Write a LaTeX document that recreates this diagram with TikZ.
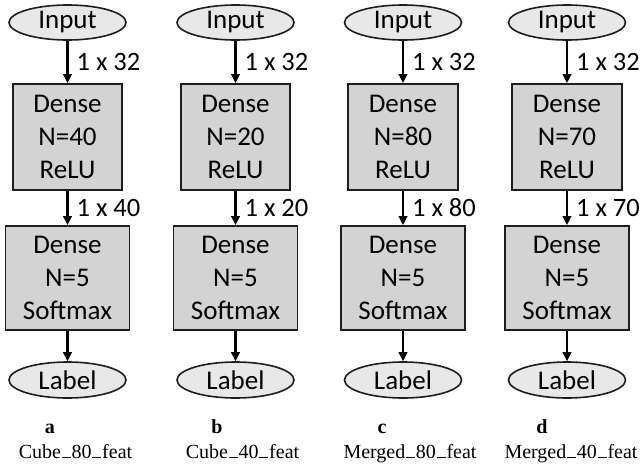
\documentclass[tikz,border=0pt]{standalone}
\usepackage{fontspec}
\setmainfont{Liberation Serif}
\newfontfamily\calib{Carlito}
\usetikzlibrary{shapes.geometric,arrows.meta}
\definecolor{boxgray}{RGB}{211,211,211}
\definecolor{ellgray}{RGB}{232,232,232}
\definecolor{edgegray}{RGB}{30,30,30}
\newcommand\usc{\kern0.04em\rule[-0.2pt]{0.45em}{0.9pt}\kern0.04em}
\begin{document}
\begin{tikzpicture}[x=1pt,y=-1pt,
  layerbox/.style={draw=edgegray,line width=1.8pt,fill=boxgray,inner sep=0pt,
    align=center,font=\calib\fontsize{27}{33}\selectfont},
  iobox/.style={ellipse,draw=edgegray,line width=1.6pt,fill=ellgray,inner sep=0pt,
    minimum width=117pt,font=\calib\fontsize{27}{30}\selectfont},
  flow/.style={draw=black,line width=2.2pt,-{Triangle[length=9pt,width=8.5pt]}},
  dimlabel/.style={anchor=west,xshift=8pt,inner sep=0pt,font=\calib\fontsize{26.5}{30}\selectfont},
  subletter/.style={font=\bfseries\fontsize{20}{24}\selectfont,anchor=base,inner sep=0pt},
  subname/.style={font=\fontsize{20}{24}\selectfont,anchor=base,inner sep=0pt}]
\useasboundingbox (0,0) rectangle (643,464);
\foreach \id/\cx/\wa/\n/\sl/\lx/\nm/\nx in {
  a/67.5/109/40/a/50/Cube\usc 80\usc feat/75.5,
  b/235.5/109/20/b/217/Cube\usc 40\usc feat/242.5,
  c/403/110/80/c/382/Merged\usc 80\usc feat/410,
  d/567/110/70/d/542/Merged\usc 40\usc feat/571}{
  \node[iobox,minimum height=35pt] (\id-in) at (\cx,22.5) {Input};
  \node[layerbox,minimum width=\wa pt,minimum height=106pt] (\id-d1) at (\cx,137)
    {Dense\\N=\n\\ReLU};
  \node[layerbox,minimum width=124pt,minimum height=104pt] (\id-d2) at (\cx,278)
    {Dense\\N=5\\Softmax};
  \node[iobox,minimum height=36pt] (\id-out) at (\cx,380) {Label};
  \draw[flow] (\id-in) -- node[dimlabel]{1 x 32} (\id-d1);
  \draw[flow] (\id-d1) -- node[dimlabel]{1 x \n} (\id-d2);
  \draw[flow] (\id-d2) -- (\id-out);
  \node[subletter] (\id-let) at (\lx,433) {\sl};
  \node[subname] (\id-name) at (\nx,458) {\nm};
}
\end{tikzpicture}
\end{document}
